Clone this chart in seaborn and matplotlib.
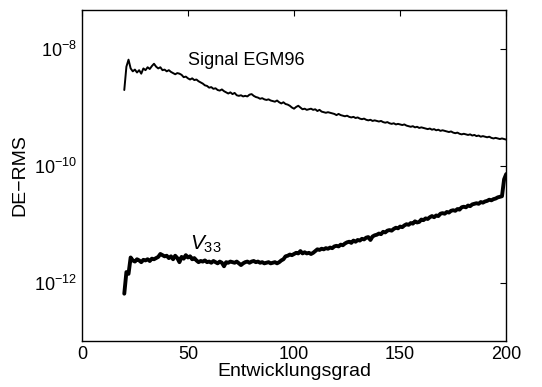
import numpy as np
import pandas as pd
import matplotlib
matplotlib.use("Agg")
import matplotlib.pyplot as plt
import seaborn as sns

# Spherical-harmonic degrees
degrees = list(range(20, 201))

# log10 of the degree-RMS of the EGM96 signal
signal_log = [
    -8.70, -8.30, -8.18, -8.33, -8.38, -8.35, -8.40, -8.36, -8.42, -8.33,
    -8.36, -8.31, -8.34, -8.29, -8.25, -8.30, -8.33, -8.31, -8.36, -8.35,
    -8.38, -8.36, -8.39, -8.41, -8.43, -8.41, -8.42, -8.44, -8.48, -8.47,
    -8.50, -8.52, -8.50, -8.53, -8.52, -8.55, -8.57, -8.59, -8.62, -8.63,
    -8.66, -8.65, -8.68, -8.67, -8.70, -8.71, -8.69, -8.72, -8.74, -8.76,
    -8.74, -8.77, -8.75, -8.79, -8.80, -8.79, -8.81, -8.80, -8.81, -8.78,
    -8.77, -8.80, -8.82, -8.83, -8.85, -8.84, -8.86, -8.87, -8.86, -8.88,
    -8.89, -8.90, -8.88, -8.91, -8.93, -8.91, -8.94, -8.95, -8.97, -9.00,
    -9.02, -8.99, -8.97, -9.00, -9.03, -9.02, -9.04, -9.03, -9.02, -9.04,
    -9.03, -9.06, -9.04, -9.07, -9.08, -9.09, -9.08, -9.09, -9.10, -9.11,
    -9.13, -9.11, -9.13, -9.14, -9.15, -9.14, -9.16, -9.17, -9.16, -9.18,
    -9.17, -9.19, -9.20, -9.19, -9.21, -9.22, -9.21, -9.23, -9.22, -9.23,
    -9.24, -9.23, -9.25, -9.26, -9.25, -9.27, -9.28, -9.27, -9.29, -9.28,
    -9.29, -9.30, -9.29, -9.31, -9.32, -9.33, -9.32, -9.34, -9.33, -9.35,
    -9.34, -9.35, -9.36, -9.37, -9.36, -9.38, -9.37, -9.39, -9.38, -9.40,
    -9.39, -9.40, -9.41, -9.42, -9.41, -9.43, -9.44, -9.43, -9.45, -9.46,
    -9.45, -9.46, -9.47, -9.46, -9.48, -9.47, -9.49, -9.48, -9.50, -9.49,
    -9.50, -9.51, -9.50, -9.52, -9.53, -9.52, -9.53, -9.54, -9.53, -9.54,
    -9.55,
]

# log10 of the degree-error RMS for the V33 gradient component
v33_log = [
    -12.19, -11.82, -11.85, -11.57, -11.62, -11.64, -11.60, -11.62, -11.65, -11.61,
    -11.62, -11.60, -11.63, -11.59, -11.60, -11.58, -11.56, -11.51, -11.53, -11.55,
    -11.54, -11.58, -11.55, -11.60, -11.54, -11.58, -11.65, -11.56, -11.59, -11.53,
    -11.57, -11.55, -11.60, -11.58, -11.62, -11.65, -11.63, -11.64, -11.62, -11.65,
    -11.64, -11.66, -11.63, -11.65, -11.67, -11.64, -11.66, -11.72, -11.65, -11.66,
    -11.64, -11.65, -11.66, -11.64, -11.67, -11.70, -11.67, -11.65, -11.64, -11.66,
    -11.64, -11.63, -11.65, -11.64, -11.66, -11.65, -11.67, -11.66, -11.65, -11.67,
    -11.66, -11.65, -11.67, -11.65, -11.62, -11.60, -11.55, -11.54, -11.52, -11.53,
    -11.51, -11.49, -11.50, -11.46, -11.50, -11.48, -11.50, -11.49, -11.51, -11.49,
    -11.46, -11.43, -11.44, -11.42, -11.43, -11.41, -11.42, -11.40, -11.41, -11.38,
    -11.37, -11.38, -11.35, -11.36, -11.33, -11.31, -11.30, -11.32, -11.28, -11.30,
    -11.27, -11.28, -11.25, -11.26, -11.23, -11.22, -11.27, -11.21, -11.19, -11.18,
    -11.16, -11.17, -11.13, -11.14, -11.11, -11.10, -11.11, -11.08, -11.06, -11.07,
    -11.04, -11.05, -11.02, -11.00, -11.01, -10.98, -10.99, -10.95, -10.97, -10.96,
    -10.92, -10.93, -10.90, -10.91, -10.88, -10.86, -10.88, -10.85, -10.86, -10.82,
    -10.81, -10.82, -10.79, -10.80, -10.77, -10.76, -10.77, -10.74, -10.75, -10.71,
    -10.70, -10.71, -10.68, -10.69, -10.66, -10.65, -10.64, -10.65, -10.62, -10.63,
    -10.61, -10.60, -10.58, -10.59, -10.57, -10.56, -10.54, -10.53, -10.52, -10.23,
    -10.14,
]

x_ticks = [0, 50, 100, 150, 200]
y_ticks = [1e-12, 1e-10, 1e-8]

sns.set_style("white")
plt.rcParams["font.family"] = ["Liberation Sans", "DejaVu Sans"]
plt.rcParams["mathtext.fontset"] = "custom"
plt.rcParams["mathtext.rm"] = "Liberation Sans"
plt.rcParams["mathtext.it"] = "Liberation Sans:italic"
plt.rcParams["text.color"] = "black"
plt.rcParams["axes.labelcolor"] = "black"
plt.rcParams["xtick.color"] = "black"
plt.rcParams["ytick.color"] = "black"

df = pd.DataFrame({
    "grad": degrees,
    "signal": 10.0 ** np.array(signal_log),
    "v33": 10.0 ** np.array(v33_log),
})

fig = plt.figure(figsize=(5.42, 3.87), dpi=100)
ax = fig.add_axes([0.151, 0.119, 0.783, 0.855])

sns.lineplot(data=df, x="grad", y="signal", ax=ax, color="black", linewidth=1.4)
sns.lineplot(data=df, x="grad", y="v33", ax=ax, color="black", linewidth=2.8)

ax.set_yscale("log")
ax.set_xlim(0, 200)
ax.set_ylim(1e-13, 10 ** -7.33)
ax.set_xticks(x_ticks)
ax.set_yticks(y_ticks)
ax.minorticks_off()
ax.yaxis.set_minor_locator(matplotlib.ticker.NullLocator())

ax.tick_params(direction="in", length=4, width=0.8, top=True, right=True,
               labelsize=13, labelcolor="black", colors="black")
for sp in ax.spines.values():
    sp.set_visible(True)
    sp.set_color("black")
    sp.set_linewidth(1.0)

ax.set_xlabel("Entwicklungsgrad", fontsize=14, labelpad=0, color="black")
ax.set_ylabel("DE\u2212RMS", fontsize=14, labelpad=4, color="black")

ax.text(50, 10 ** -8.19, "Signal EGM96", fontsize=13, ha="left", va="center",
        color="black")
ax.text(51, 10 ** -11.35, r"$\mathit{V}_{33}$", fontsize=15, ha="left",
        va="center", color="black")

fig.savefig("out.png", dpi=100)
